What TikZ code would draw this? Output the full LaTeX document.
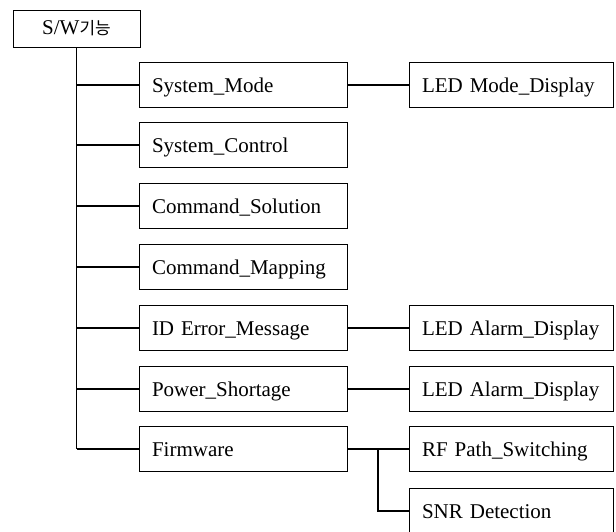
\documentclass[tikz,border=0pt]{standalone}
\usepackage{fontspec}
\setmainfont{Liberation Serif}
\newfontfamily\krfont{Noto Sans CJK KR}
\usetikzlibrary{calc}
\begin{document}
\begin{tikzpicture}[x=1pt,y=-1pt,
  every node/.style={font=\fontsize{21}{25}\selectfont},
  box/.style={draw,line width=0.9pt,rectangle,minimum height=45pt,inner xsep=13pt,inner ysep=0pt,align=left,text height=18pt,text depth=3pt},
  lone/.style={box,text width=182pt},
  ltwo/.style={box,text width=178pt},
  conn/.style={line width=1.1pt}]
\useasboundingbox (0,0) rectangle (616,532);
\node[draw,line width=0.9pt,minimum width=127pt,minimum height=37pt,inner sep=0pt,text height=16pt,text depth=3pt] (root) at (76.5,28.5) {S/W{\krfont\fontsize{17}{20}\selectfont 기능}};
\node[lone] (sm) at (243,85) {System\_Mode};
\node[lone] (sc) at (243,145) {System\_Control};
\node[lone] (cs) at (243,206) {Command\_Solution};
\node[lone] (cm) at (243,267) {Command\_Mapping};
\node[lone] (id) at (243,328) {ID Error\_Message};
\node[lone] (ps) at (243,389) {Power\_Shortage};
\node[lone] (fw) at (243,449) {Firmware};
\node[ltwo] (led1) at (511,85) {LED Mode\_Display};
\node[ltwo] (led2) at (511,328) {LED Alarm\_Display};
\node[ltwo] (led3) at (511,389) {LED Alarm\_Display};
\node[ltwo] (rf) at (511,449) {RF Path\_Switching};
\node[ltwo] (snr) at (511,511) {SNR Detection};
\draw[conn] (root.south) -- (root.south |- fw.west);
\foreach \n in {sm,sc,cs,cm,id,ps,fw}{\draw[conn] (root.south |- \n.west) -- (\n.west);}
\draw[conn] (sm.east) -- (led1.west);
\draw[conn] (id.east) -- (led2.west);
\draw[conn] (ps.east) -- (led3.west);
\draw[conn] (fw.east) -- (rf.west);
\coordinate (br) at ($(fw.east)!0.5!(rf.west)$);
\draw[conn] (br) |- (snr.west);
\end{tikzpicture}
\end{document}
